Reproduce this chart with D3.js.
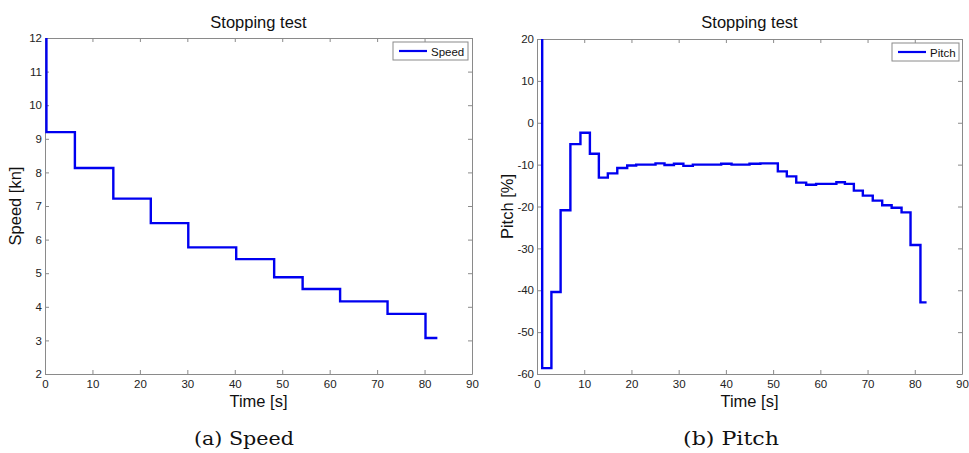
<!DOCTYPE html>
<html>
<head>
<meta charset="utf-8">
<script src="https://cdn.jsdelivr.net/npm/d3@7"></script>
<style>
  body { margin: 0; background: #fff; }
  svg { display: block; font-family: "Liberation Sans", Arial, sans-serif; }
</style>
</head>
<body>
<svg id="chart" width="969" height="453"></svg>
<script>
// step data: [time start (s), value] held until the next time
const speedSteps = [
  [0.3, 12], [0.3, 9.2], [6.3, 8.13], [14.4, 7.22], [22.3, 6.49], [30.2, 5.77],
  [40.3, 5.42], [48.3, 4.88], [54.3, 4.53], [62.2, 4.16], [72.2, 3.79],
  [80.2, 3.07], [82.7, 3.07]
];
const pitchSteps = [
  [1.1, 20], [1.1, -58.6], [3.05, -40.4], [5.0, -20.9], [7.07, -5.1], [9.2, -2.4],
  [11.2, -7.4], [13.1, -13.1], [15.0, -12.1], [17.0, -10.8], [19.1, -10.2],
  [21.0, -10.0], [25.1, -9.7], [27.0, -10.1], [29.0, -9.8], [31.0, -10.3],
  [33.0, -10.0], [39.0, -9.8], [41.2, -10.0], [45.0, -9.8], [47.3, -9.7],
  [51.0, -11.6], [52.9, -12.8], [54.9, -14.3], [57.0, -14.8], [59.1, -14.6],
  [63.4, -14.2], [65.2, -14.6], [67.1, -16.2], [69.0, -17.4], [71.1, -18.6],
  [73.1, -19.7], [75.1, -20.3], [77.2, -21.4], [79.1, -29.2], [81.2, -42.9],
  [82.5, -42.9]
];
const timeTicks = [0, 10, 20, 30, 40, 50, 60, 70, 80, 90];
const speedTicks = [2, 3, 4, 5, 6, 7, 8, 9, 10, 11, 12];
const pitchTicks = [-60, -50, -40, -30, -20, -10, 0, 10, 20];

const svg = d3.select("#chart");
const lineColor = "#0000f0";
const boxColor = "#8a8a8a";
const plainFormat = (d) => String(d); // keep ascii hyphen like matlab

function drawPanel(cfg) {
  const x = d3.scaleLinear().domain([0, 90]).range([cfg.left, cfg.right]);
  const y = d3.scaleLinear().domain(cfg.yDomain).range([cfg.bottom, cfg.top]);
  const g = svg.append("g");
  const clipId = `clip-${cfg.name}`;

  g.append("clipPath").attr("id", clipId)
    .append("rect")
    .attr("x", cfg.left).attr("y", cfg.top)
    .attr("width", cfg.right - cfg.left).attr("height", cfg.bottom - cfg.top);

  // axes on all four sides, ticks pointing inward (matlab style)
  const axes = [
    { ax: d3.axisBottom(x).tickValues(timeTicks), t: `translate(0,${cfg.bottom})`, labels: true, pad: 6 },
    { ax: d3.axisTop(x).tickValues(timeTicks), t: `translate(0,${cfg.top})`, labels: false, pad: 0 },
    { ax: d3.axisLeft(y).tickValues(cfg.yTicks), t: `translate(${cfg.left},0)`, labels: true, pad: 3 },
    { ax: d3.axisRight(y).tickValues(cfg.yTicks), t: `translate(${cfg.right},0)`, labels: false, pad: 0 }
  ];
  axes.forEach((a) => {
    const ag = g.append("g").attr("transform", a.t)
      .call(a.ax.tickSizeInner(-4).tickSizeOuter(0).tickPadding(a.pad).tickFormat(plainFormat));
    ag.select(".domain").attr("stroke", boxColor);
    ag.selectAll(".tick line").attr("stroke", boxColor);
    ag.selectAll(".tick text")
      .attr("font-size", 11.5).attr("fill", "#222")
      .attr("font-family", "'Liberation Sans', Arial, sans-serif")
      .style("display", a.labels ? null : "none");
  });

  const line = d3.line()
    .x((d) => x(d[0]))
    .y((d) => y(d[1]))
    .curve(d3.curveStepAfter);

  g.append("path")
    .datum(cfg.data)
    .attr("clip-path", `url(#${clipId})`)
    .attr("fill", "none")
    .attr("stroke", lineColor)
    .attr("stroke-width", 2.4)
    .attr("d", line);

  const cx = (cfg.left + cfg.right) / 2;
  g.append("text")
    .attr("x", cx).attr("y", 28)
    .attr("text-anchor", "middle")
    .attr("font-size", 16.5).attr("fill", "#111")
    .text("Stopping test");

  g.append("text")
    .attr("x", cx).attr("y", 407)
    .attr("text-anchor", "middle")
    .attr("font-size", 16.5).attr("fill", "#111")
    .text("Time [s]");

  g.append("text")
    .attr("transform", `translate(${cfg.left - 24},${(cfg.top + cfg.bottom) / 2}) rotate(-90)`)
    .attr("text-anchor", "middle")
    .attr("font-size", 16.5).attr("fill", "#111")
    .text(cfg.yLabel);

  // legend
  const lg = g.append("g").attr("transform", `translate(${cfg.legendX},${cfg.top + 4})`);
  lg.append("rect")
    .attr("width", cfg.legendW).attr("height", 18)
    .attr("fill", "#fff").attr("stroke", boxColor);
  lg.append("line")
    .attr("x1", 6).attr("x2", 34).attr("y1", 9).attr("y2", 9)
    .attr("stroke", lineColor).attr("stroke-width", 2.2);
  lg.append("text")
    .attr("x", 38).attr("y", 13.5)
    .attr("font-size", 11.5).attr("fill", "#111")
    .text(cfg.series);

  // subfigure caption (latex style, wide serif)
  svg.append("text")
    .attr("x", cfg.captionX - cfg.captionW / 2).attr("y", 445)
    .attr("font-family", "'DejaVu Serif', 'Liberation Serif', serif")
    .attr("font-size", 18).attr("fill", "#111")
    .attr("textLength", cfg.captionW)
    .attr("lengthAdjust", "spacingAndGlyphs")
    .text(cfg.caption);
}

drawPanel({
  name: "speed", data: speedSteps, yDomain: [2, 12], yTicks: speedTicks,
  left: 45, right: 472, top: 38, bottom: 374,
  yLabel: "Speed [kn]", series: "Speed", legendX: 393, legendW: 75,
  caption: "(a) Speed", captionX: 244, captionW: 100
});
drawPanel({
  name: "pitch", data: pitchSteps, yDomain: [-60, 20], yTicks: pitchTicks,
  left: 537, right: 962, top: 39, bottom: 374,
  yLabel: "Pitch [%]", series: "Pitch", legendX: 892, legendW: 67,
  caption: "(b) Pitch", captionX: 731, captionW: 96
});
</script>
</body>
</html>
